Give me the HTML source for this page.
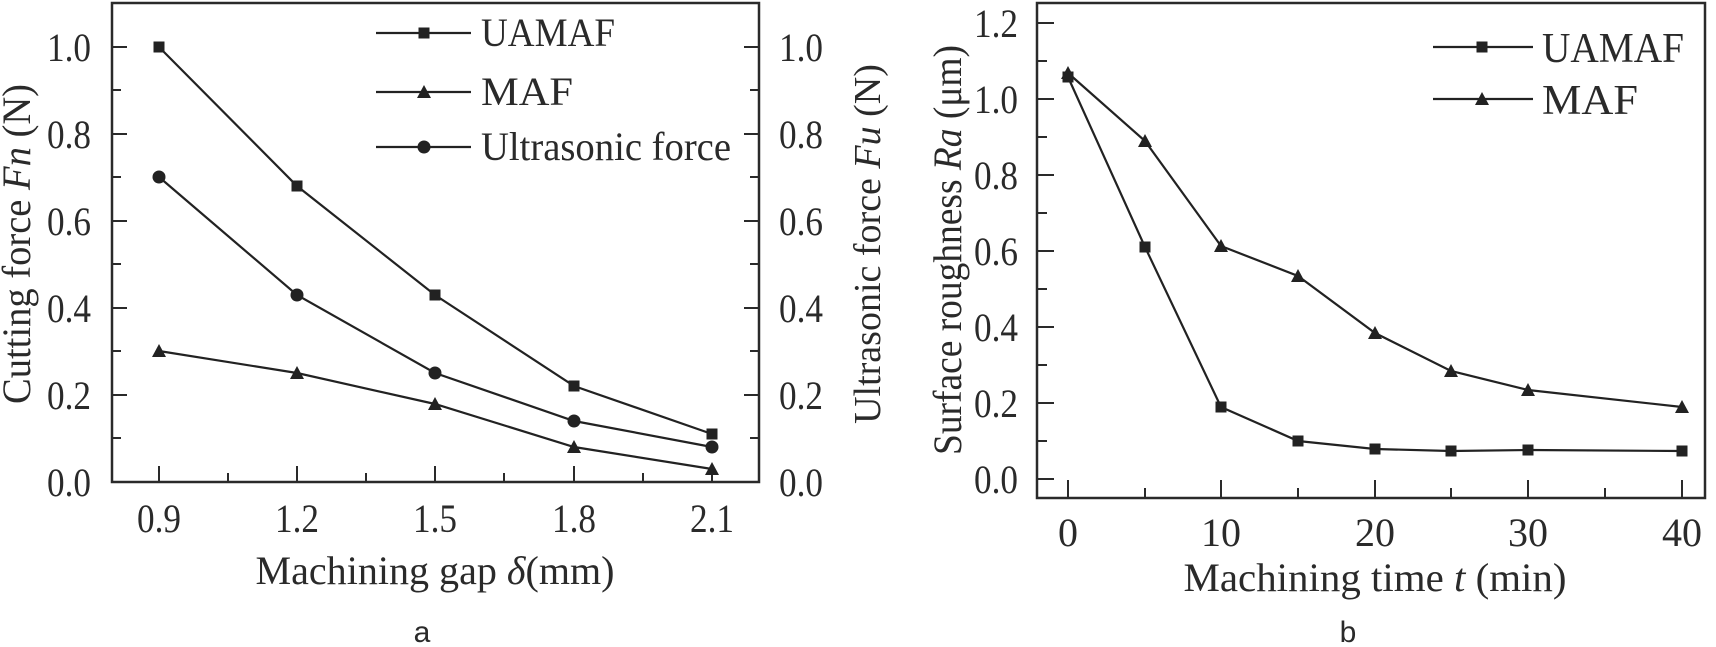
<!DOCTYPE html>
<html><head><meta charset="utf-8"><style>
html,body{margin:0;padding:0;background:#fff;}
svg{display:block;}
text{font-family:"Liberation Serif",serif;fill:#2a2a2a;}
</style></head><body>
<svg width="1716" height="647" viewBox="0 0 1716 647" xmlns="http://www.w3.org/2000/svg">
<defs>
<rect id="sq" x="-5.5" y="-5.5" width="11" height="11" fill="#222"/>
<path id="tri" d="M0,-7 L7,6 L-7,6 Z" fill="#222"/>
<circle id="ci" r="6.5" fill="#222"/>
</defs>
<g stroke="#2a2a2a" fill="none">
<rect x="112" y="3" width="647" height="479" stroke-width="2.5"/>
<g stroke-width="2">
<path d="M159,482v-16 M297,482v-16 M435,482v-16 M574,482v-16 M712,482v-16"/>
<path d="M228,482v-9 M366,482v-9 M504,482v-9 M643,482v-9"/>
<path d="M112,482h15 M112,395h15 M112,308h15 M112,221h15 M112,134h15 M112,47h15"/>
<path d="M112,438h9 M112,351h9 M112,264h9 M112,177h9 M112,90h9"/>
<path d="M759,482h-15 M759,395h-15 M759,308h-15 M759,221h-15 M759,134h-15 M759,47h-15"/>
<path d="M759,438h-9 M759,351h-9 M759,264h-9 M759,177h-9 M759,90h-9"/>
</g>
<g stroke-width="2.2" stroke="#222">
<polyline points="159,47 297,186 435,295 574,386 712,434"/>
<polyline points="159,177 297,295 435,373 574,421 712,447"/>
<polyline points="159,351 297,373 435,404 574,447 712,469"/>
<path d="M376,33h95 M376,92h95 M376,147h95"/>
</g>
<rect x="1037" y="3" width="668" height="495" stroke-width="2.5"/>
<g stroke-width="2">
<path d="M1068,498v-18 M1221,498v-18 M1375,498v-18 M1528,498v-18 M1682,498v-18"/>
<path d="M1145,498v-10 M1298,498v-10 M1451,498v-10 M1605,498v-10"/>
<path d="M1037,479h17 M1037,403h17 M1037,327h17 M1037,251h17 M1037,175h17 M1037,99h17 M1037,23h17"/>
<path d="M1037,441h10 M1037,365h10 M1037,289h10 M1037,213h10 M1037,137h10 M1037,61h10"/>
</g>
<g stroke-width="2.2" stroke="#222">
<polyline points="1068,77 1145,247 1221,407 1298,441 1375,449 1451,451 1528,450 1682,451"/>
<polyline points="1068,73 1145,141 1221,246 1298,276 1375,333 1451,371 1528,390 1682,407"/>
<path d="M1433,47h100 M1433,99h100"/>
</g>
</g>
<g>
<use href="#sq" x="159" y="47"/><use href="#sq" x="297" y="186"/><use href="#sq" x="435" y="295"/><use href="#sq" x="574" y="386"/><use href="#sq" x="712" y="434"/>
<use href="#ci" x="159" y="177"/><use href="#ci" x="297" y="295"/><use href="#ci" x="435" y="373"/><use href="#ci" x="574" y="421"/><use href="#ci" x="712" y="447"/>
<use href="#tri" x="159" y="351"/><use href="#tri" x="297" y="373"/><use href="#tri" x="435" y="404"/><use href="#tri" x="574" y="447"/><use href="#tri" x="712" y="469"/>
<use href="#sq" x="424" y="33"/><use href="#tri" x="424" y="92"/><use href="#ci" x="424" y="147"/>
</g>
<g>
<use href="#sq" x="1068" y="77"/><use href="#sq" x="1145" y="247"/><use href="#sq" x="1221" y="407"/><use href="#sq" x="1298" y="441"/><use href="#sq" x="1375" y="449"/><use href="#sq" x="1451" y="451"/><use href="#sq" x="1528" y="450"/><use href="#sq" x="1682" y="451"/>
<use href="#tri" x="1068" y="73"/><use href="#tri" x="1145" y="141"/><use href="#tri" x="1221" y="246"/><use href="#tri" x="1298" y="276"/><use href="#tri" x="1375" y="333"/><use href="#tri" x="1451" y="371"/><use href="#tri" x="1528" y="390"/><use href="#tri" x="1682" y="407"/>
<use href="#sq" x="1482" y="47"/><use href="#tri" x="1482" y="99"/>
</g>
<g font-size="40" text-anchor="end">
<text x="91" y="496" textLength="44" lengthAdjust="spacingAndGlyphs">0.0</text><text x="91" y="409" textLength="44" lengthAdjust="spacingAndGlyphs">0.2</text><text x="91" y="322" textLength="44" lengthAdjust="spacingAndGlyphs">0.4</text><text x="91" y="235" textLength="44" lengthAdjust="spacingAndGlyphs">0.6</text><text x="91" y="148" textLength="44" lengthAdjust="spacingAndGlyphs">0.8</text><text x="91" y="61" textLength="44" lengthAdjust="spacingAndGlyphs">1.0</text>
</g>
<g font-size="40" text-anchor="start">
<text x="779" y="496" textLength="44" lengthAdjust="spacingAndGlyphs">0.0</text><text x="779" y="409" textLength="44" lengthAdjust="spacingAndGlyphs">0.2</text><text x="779" y="322" textLength="44" lengthAdjust="spacingAndGlyphs">0.4</text><text x="779" y="235" textLength="44" lengthAdjust="spacingAndGlyphs">0.6</text><text x="779" y="148" textLength="44" lengthAdjust="spacingAndGlyphs">0.8</text><text x="779" y="61" textLength="44" lengthAdjust="spacingAndGlyphs">1.0</text>
</g>
<g font-size="40" text-anchor="middle">
<text x="159" y="532" textLength="44" lengthAdjust="spacingAndGlyphs">0.9</text><text x="297" y="532" textLength="44" lengthAdjust="spacingAndGlyphs">1.2</text><text x="435" y="532" textLength="44" lengthAdjust="spacingAndGlyphs">1.5</text><text x="574" y="532" textLength="44" lengthAdjust="spacingAndGlyphs">1.8</text><text x="712" y="532" textLength="44" lengthAdjust="spacingAndGlyphs">2.1</text>
<text x="435" y="584" textLength="359" lengthAdjust="spacingAndGlyphs">Machining gap <tspan font-style="italic">δ</tspan>(mm)</text>
<text transform="translate(30,244) rotate(-90)" textLength="320" lengthAdjust="spacingAndGlyphs">Cutting force <tspan font-style="italic">Fn</tspan> (N)</text>
<text transform="translate(880,244) rotate(-90)" font-size="38">Ultrasonic force <tspan font-style="italic">Fu</tspan> (N)</text>
</g>
<g font-size="40">
<text x="481" y="46" textLength="134" lengthAdjust="spacingAndGlyphs">UAMAF</text><text x="481" y="105" textLength="92" lengthAdjust="spacingAndGlyphs">MAF</text><text x="481" y="160" textLength="250" lengthAdjust="spacingAndGlyphs">Ultrasonic force</text>
</g>
<text x="422" y="642" font-size="30" text-anchor="middle" style="font-family:'Liberation Sans',sans-serif">a</text>
<g font-size="40" text-anchor="end">
<text x="1018" y="493" textLength="44" lengthAdjust="spacingAndGlyphs">0.0</text><text x="1018" y="417" textLength="44" lengthAdjust="spacingAndGlyphs">0.2</text><text x="1018" y="341" textLength="44" lengthAdjust="spacingAndGlyphs">0.4</text><text x="1018" y="265" textLength="44" lengthAdjust="spacingAndGlyphs">0.6</text><text x="1018" y="189" textLength="44" lengthAdjust="spacingAndGlyphs">0.8</text><text x="1018" y="113" textLength="44" lengthAdjust="spacingAndGlyphs">1.0</text><text x="1018" y="37" textLength="44" lengthAdjust="spacingAndGlyphs">1.2</text>
</g>
<g font-size="40" text-anchor="middle">
<text x="1068" y="546">0</text><text x="1221" y="546">10</text><text x="1375" y="546">20</text><text x="1528" y="546">30</text><text x="1682" y="546">40</text>
<text x="1375" y="591" textLength="383" lengthAdjust="spacingAndGlyphs">Machining time <tspan font-style="italic">t</tspan> (min)</text>
<text transform="translate(961,250) rotate(-90)" textLength="410" lengthAdjust="spacingAndGlyphs">Surface roughness <tspan font-style="italic">Ra</tspan> (μm)</text>
</g>
<g font-size="42">
<text x="1542" y="62" textLength="142" lengthAdjust="spacingAndGlyphs">UAMAF</text><text x="1542" y="114" textLength="96" lengthAdjust="spacingAndGlyphs">MAF</text>
</g>
<text x="1348" y="642" font-size="30" text-anchor="middle" style="font-family:'Liberation Sans',sans-serif">b</text>
</svg>
</body></html>
